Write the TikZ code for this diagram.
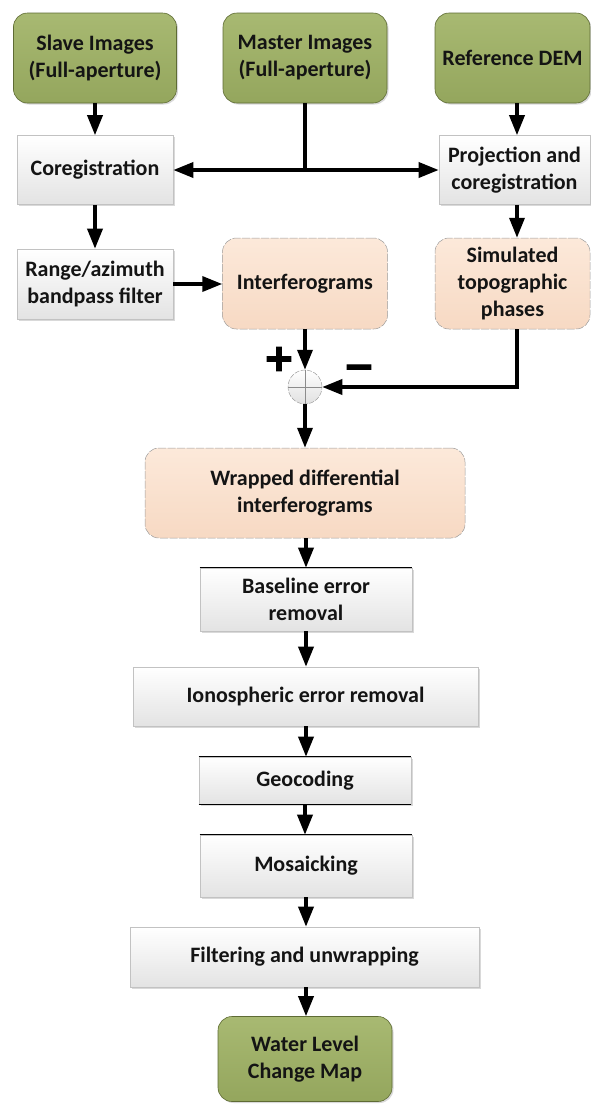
\documentclass[tikz,border=0pt]{standalone}
\usepackage{fontspec}
\setmainfont{Carlito}
\newfontfamily\signfont{DejaVu Sans Bold}[FakeBold=3]
\usetikzlibrary{arrows.meta,shadows,calc}

\definecolor{oliveTop}{HTML}{A8B972}
\definecolor{oliveBot}{HTML}{94A65D}
\definecolor{oliveEdge}{HTML}{5E6B34}
\definecolor{peachTop}{HTML}{FCE9DA}
\definecolor{peachBot}{HTML}{F7D9C3}
\definecolor{peachEdge}{HTML}{9C9C9C}
\definecolor{greyBot}{HTML}{E3E3E3}
\definecolor{greyEdge}{HTML}{C2C2C2}

\begin{document}
\begin{tikzpicture}[x=1pt,y=-1pt,
  every node/.style={font=\fontsize{22}{27}\selectfont\bfseries, text=black!92,
    align=center, inner sep=0pt},
  softshadow/.style={drop shadow={shadow xshift=1.5pt, shadow yshift=-1.5pt,
    opacity=0.25, fill=black!60}},
  greenbox/.style={rectangle, rounded corners=14pt, draw=oliveEdge, line width=0.6pt,
    top color=oliveTop, bottom color=oliveBot, softshadow},
  peachbox/.style={rectangle, rounded corners=14pt, draw=peachEdge, line width=0.5pt,
    dash pattern=on 8pt off 1.5pt, top color=peachTop, bottom color=peachBot},
  greybox/.style={rectangle, draw=greyEdge, line width=0.6pt,
    top color=white, bottom color=greyBot, softshadow},
  sumnode/.style={circle, minimum size=34pt, draw=peachEdge, line width=0.5pt,
    dash pattern=on 5pt off 1.5pt, top color=white, bottom color=black!12},
  signlabel/.style={font=\mdseries\signfont\fontsize{38}{38}\selectfont, text=black},
  link/.style={line width=3.5pt, black},
  arr/.style={link, -{Triangle[width=15pt,length=20pt]}},
  edgeline/.style={black, line width=0.8pt}]

\useasboundingbox (0,0) rectangle (590,1104);

% sources
\node[greenbox, minimum width=163pt, minimum height=90pt] (slave) at (95,58)
  {Slave Images\\(Full-aperture)};
\node[greenbox, minimum width=164pt, minimum height=90pt] (master) at (305,58)
  {Master Images\\(Full-aperture)};
\node[greenbox, minimum width=155pt, minimum height=90pt] (refdem) at (512.5,58)
  {Reference DEM};

% preprocessing
\node[greybox, minimum width=156pt, minimum height=69pt] (coreg) at (95,170)
  {Coregistration};
\node[greybox, minimum width=151pt, minimum height=69pt] (proj) at (514.5,170)
  {Projection and\\coregistration};
\node[greybox, minimum width=156pt, minimum height=70pt] (range) at (95,284)
  {Range/azimuth\\bandpass filter};

% phases
\node[peachbox, minimum width=165pt, minimum height=91pt] (interf) at (305,283.5)
  {Interferograms};
\node[peachbox, minimum width=155pt, minimum height=91pt] (sim) at (512.5,283.5)
  {Simulated\\topographic\\phases};

% phase subtraction
\node[sumnode] (sum) at (305,387) {};
\draw[black!45, line width=0.5pt] (sum.north) -- (sum.south) (sum.west) -- (sum.east);
\node[signlabel] (plus) at (279,359) {+};
\node[signlabel] (minus) at (359,372) {−};

% processing chain
\node[peachbox, minimum width=320pt, minimum height=90pt] (wrapped) at (305,493)
  {Wrapped differential\\interferograms};
\node[greybox, minimum width=212pt, minimum height=63pt] (baseline) at (306,599.5)
  {Baseline error\\removal};
\node[greybox, minimum width=345pt, minimum height=59pt] (iono) at (305.5,696.5)
  {Ionospheric error removal};
\node[greybox, minimum width=212pt, minimum height=47pt] (geo) at (305,780.5)
  {Geocoding};
\node[greybox, minimum width=212pt, minimum height=62pt] (mosaic) at (306,866)
  {Mosaicking};
\node[greybox, minimum width=349pt, minimum height=60pt] (filter) at (304.5,957)
  {Filtering and unwrapping};
\node[greenbox, minimum width=174pt, minimum height=85pt] (water) at (305,1059)
  {Water Level\\Change Map};

% darker box edges
\draw[edgeline] (baseline.north west) -- (baseline.north east);
\draw[edgeline] (geo.north west) -- (geo.north east);
\draw[edgeline] (geo.south west) -- (geo.south east);
\draw[edgeline] (mosaic.north west) -- (mosaic.north east);

% connectors
\coordinate (junc) at (305,170);
\draw[arr] (slave.south) -- (coreg.north);
\draw[link] (master.south) -- (junc);
\draw[arr] (junc) -- (coreg.east);
\draw[arr] (junc) -- (proj.west);
\draw[arr] ([xshift=4.5pt]refdem.south) -- ([xshift=2.5pt]proj.north);
\draw[arr] (coreg.south) -- (range.north);
\draw[arr] (range.east) -- (range.east -| interf.west);
\draw[arr] ([xshift=2.5pt]proj.south) -- ([xshift=4.5pt]sim.north);
\draw[arr] (interf.south) -- (sum.north);
\draw[arr] ([xshift=4.5pt]sim.south) |- (sum.east);
\draw[arr] (sum.south) -- (wrapped.north);
\draw[arr] (wrapped.south -| baseline.north) -- (baseline.north);
\draw[arr] (baseline.south) -- (baseline.south |- iono.north);
\draw[arr] (baseline.south |- iono.south) -- (baseline.south |- geo.north);
\draw[arr] (geo.south) -- (geo.south |- mosaic.north);
\draw[arr] (mosaic.south) -- (mosaic.south |- filter.north);
\draw[arr] (mosaic.south |- filter.south) -- (mosaic.south |- water.north);

\end{tikzpicture}
\end{document}
